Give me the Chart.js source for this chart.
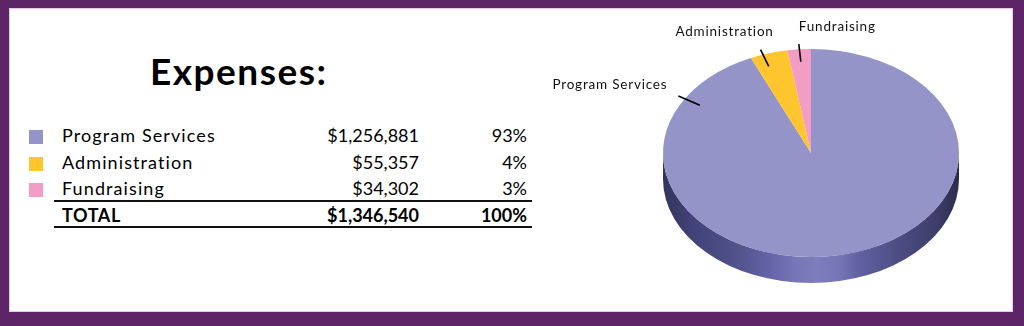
<!DOCTYPE html>
<html>
<head>
<meta charset="utf-8">
<title>Expenses</title>
<script src="https://cdn.jsdelivr.net/npm/chart.js@4.4.1/dist/chart.umd.min.js"></script>
<style>
  html, body { margin: 0; padding: 0; }
  body {
    width: 1024px; height: 326px; position: relative; overflow: hidden;
    background: #5c2466;
    font-family: Lato, "Noto Sans", sans-serif; color: #000;
  }
  .panel {
    position: absolute; left: 10px; top: 9px; width: 1002px; height: 302px;
    background: #fff; box-shadow: 0 0 0 1px #e6c9e8;
  }
  .title {
    position: absolute; left: 150px; top: 52px;
    font-size: 37px; font-weight: 700; line-height: 37px; letter-spacing: 1.5px;
  }
  .row { position: absolute; left: 0; height: 26.5px; line-height: 26.5px; font-size: 18px; }
  .row span { position: absolute; white-space: nowrap; }
  .swatch { position: absolute; left: 29px; top: 8px; width: 14px; height: 14px; }
  .name { left: 62px; letter-spacing: 1.1px; }
  .amount { right: -419px; text-align: right; }
  .pct { right: -527px; text-align: right; }
  .total .name { letter-spacing: 0.6px; }
  .total { font-weight: 700; }
  .rule { position: absolute; left: 54px; width: 478px; height: 2px; background: #111; }
  #wrap { position: absolute; left: 0; top: 0; width: 1024px; height: 326px; }
</style>
</head>
<body>
<div class="panel"></div>
<div class="title">Expenses:</div>
<div id="table"></div>
<div class="rule" style="top:200px"></div>
<div class="rule" style="top:226px"></div>
<div id="wrap"><canvas id="pie"></canvas></div>

<script>
// expense categories and amounts (USD)
const categories = ['Program Services', 'Administration', 'Fundraising'];
const amounts = [1256881, 55357, 34302];
const sliceColors = ['#9494c8', '#fec52e', '#f39cc6'];

const total = amounts.reduce((a, b) => a + b, 0);
const money = v => '$' + v.toLocaleString('en-US');
const pct = v => Math.round(v / total * 100) + '%';

// ---------- table on the left ----------
const table = document.getElementById('table');
const rowTop = 122, rowStep = 26.5;

function addRow(i, name, value, color, cls) {
  const row = document.createElement('div');
  row.className = 'row' + (cls ? ' ' + cls : '');
  row.style.top = (rowTop + i * rowStep) + 'px';
  row.innerHTML =
    (color ? `<div class="swatch" style="background:${color}"></div>` : '') +
    `<span class="name">${name}</span>` +
    `<span class="amount">${money(value)}</span>` +
    `<span class="pct">${pct(value)}</span>`;
  table.appendChild(row);
}

categories.forEach((c, i) => addRow(i, c, amounts[i], sliceColors[i]));
addRow(categories.length, 'TOTAL', total, null, 'total');

// ---------- 3d pie ----------
function pt(arc, angle, f, k) {
  return {
    x: arc.x + Math.cos(angle) * arc.outerRadius * f,
    y: arc.y + Math.sin(angle) * arc.outerRadius * f * k
  };
}

// squashes the pie into an ellipse and paints the side wall under it
const pie3d = {
  id: 'pie3d',
  beforeDatasetsDraw(chart, args, opts) {
    const ctx = chart.ctx;
    const arcs = chart.getDatasetMeta(0).data;
    const { x: cx, y: cy, outerRadius: r } = arcs[0];
    const k = opts.tilt, depth = opts.depth;

    const grad = ctx.createLinearGradient(cx - r, 0, cx + r, 0);
    opts.sideStops.forEach(s => grad.addColorStop(s[0], s[1]));

    arcs.forEach((arc, i) => {
      [-2 * Math.PI, 0, 2 * Math.PI].forEach(shift => {
        const s = Math.max(arc.startAngle + shift, 0);
        const e = Math.min(arc.endAngle + shift, Math.PI);
        if (e <= s) return;
        ctx.save();
        ctx.beginPath();
        ctx.ellipse(cx, cy, r, r * k, 0, s, e);
        ctx.ellipse(cx, cy + depth, r, r * k, 0, e, s, true);
        ctx.closePath();
        ctx.fillStyle = i === 0 ? grad : arc.options.backgroundColor;
        ctx.fill();
        ctx.restore();
      });
    });

    ctx.save();
    ctx.translate(cx, cy);
    ctx.scale(1, k);
    ctx.translate(-cx, -cy);
  },
  afterDatasetsDraw(chart) {
    chart.ctx.restore();
  }
};

// category names with short leader lines
const sliceLabels = {
  id: 'sliceLabels',
  afterDraw(chart, args, opts) {
    const ctx = chart.ctx;
    const k = chart.options.plugins.pie3d.tilt;
    chart.getDatasetMeta(0).data.forEach((arc, i) => {
      const l = opts.items[i];
      const a = arc.startAngle + l.frac * (arc.endAngle - arc.startAngle);
      const p0 = pt(arc, a, 0.88, k);
      const p1 = pt(arc, a, 1.05, k);
      ctx.save();
      ctx.strokeStyle = '#000';
      ctx.lineWidth = 1.6;
      ctx.beginPath();
      ctx.moveTo(p0.x, p0.y);
      ctx.lineTo(p1.x, p1.y);
      ctx.stroke();
      ctx.fillStyle = '#111';
      ctx.font = '13.5px Lato, "Noto Sans", sans-serif';
      ctx.letterSpacing = '0.8px';
      ctx.textAlign = l.align;
      ctx.textBaseline = 'middle';
      ctx.fillText(chart.data.labels[i], p1.x + l.dx, p1.y + l.dy);
      ctx.restore();
    });
  }
};

new Chart(document.getElementById('pie'), {
  type: 'pie',
  data: {
    labels: categories,
    datasets: [{
      data: amounts,
      backgroundColor: sliceColors,
      borderWidth: 0,
      hoverOffset: 0
    }]
  },
  options: {
    responsive: true,
    maintainAspectRatio: false,
    animation: false,
    events: [],
    layout: { padding: { left: 663, right: 65, top: 5, bottom: 25 } },
    plugins: {
      legend: { display: false },
      tooltip: { enabled: false },
      pie3d: {
        tilt: 0.703,
        depth: 26,
        sideStops: [
          [0, '#34345c'], [0.1, '#42427a'], [0.25, '#52528c'], [0.36, '#6464a8'],
          [0.45, '#7676b8'], [0.52, '#7e7ebe'], [0.6, '#7575b6'], [0.66, '#6262a2'],
          [0.8, '#4c4c84'], [0.92, '#3e3e6a'], [1, '#2c2c50']
        ]
      },
      sliceLabels: {
        items: [
          { frac: 0.897, dx: -11, dy: -11, align: 'right' },
          { frac: 0.34, dx: -36, dy: -18, align: 'center' },
          { frac: 0.51, dx: 0, dy: -17, align: 'left' }
        ]
      }
    }
  },
  plugins: [pie3d, sliceLabels]
});
</script>
</body>
</html>
